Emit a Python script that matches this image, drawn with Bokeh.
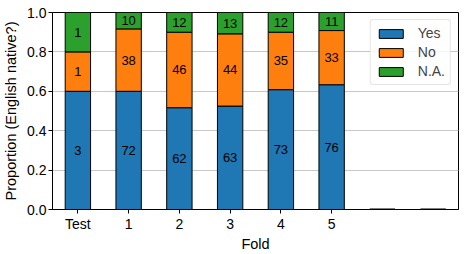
from bokeh.plotting import figure
from bokeh.models import ColumnDataSource, Range1d, FixedTicker, LabelSet
from bokeh.core.properties import value
from bokeh.embed import file_html
from bokeh.resources import INLINE

folds = ["Test", "1", "2", "3", "4", "5", "", ""]
yes_counts = [3, 72, 62, 63, 73, 76, 0, 0]
no_counts = [1, 38, 46, 44, 35, 33, 0, 0]
na_counts = [1, 10, 12, 13, 12, 11, 0, 0]
series_names = ["Yes", "No", "N.A."]
colors = ["#1f77b4", "#ff7f0e", "#2ca02c"]
y_ticks = [0.0, 0.2, 0.4, 0.6, 0.8, 1.0]

FONT = "Liberation Sans"
BAR_W = 0.5

xs = list(range(len(folds)))
totals = [a + b + c for a, b, c in zip(yes_counts, no_counts, na_counts)]
def prop(v, t):
    return v / t if t else 0.0
yes_p = [prop(v, t) for v, t in zip(yes_counts, totals)]
no_p = [prop(v, t) for v, t in zip(no_counts, totals)]
na_p = [prop(v, t) for v, t in zip(na_counts, totals)]

src = ColumnDataSource(dict(x=xs, Yes=yes_p, No=no_p, NA=na_p))

p = figure(width=465, height=254, output_backend="svg", toolbar_location=None,
           x_range=Range1d(-0.5, 7.5), y_range=Range1d(0, 1),
           min_border_left=50, min_border_right=7, min_border_top=12, min_border_bottom=43)

p.vbar_stack(["Yes", "No", "NA"], x="x", width=BAR_W, source=src,
             fill_color=colors, line_color="black", line_width=1,
             legend_label=series_names)

# empty bars (zero height) drawn as flat outlines
ex = [i for i in xs if totals[i] == 0]
esrc = ColumnDataSource(dict(x0=[i - BAR_W / 2 for i in ex], x1=[i + BAR_W / 2 for i in ex],
                             y=[0.0 for _ in ex]))
p.segment(x0="x0", y0="y", x1="x1", y1="y", source=esrc, line_color="black", line_width=2)

# labels
lx, ly, lt = [], [], []
for i in xs:
    base = 0.0
    for cnt, pr in ((yes_counts[i], yes_p[i]), (no_counts[i], no_p[i]), (na_counts[i], na_p[i])):
        if cnt:
            lx.append(i)
            ly.append(base + pr / 2)
            lt.append(str(cnt))
        base += pr
lsrc = ColumnDataSource(dict(x=lx, y=ly, t=lt))
labels = LabelSet(x="x", y="y", text="t", source=lsrc, text_align="center",
                  text_baseline="middle", text_font=value(FONT), text_font_size=value("13px"),
                  text_color="black")
p.add_layout(labels)

p.outline_line_color = "black"
p.outline_line_width = 1
p.outline_line_alpha = 1

p.xgrid.grid_line_color = None
p.ygrid.ticker = FixedTicker(ticks=y_ticks)
p.ygrid.grid_line_color = "#c8c8c8"
p.ygrid.grid_line_width = 1

p.xaxis.ticker = FixedTicker(ticks=xs[:6])
p.xaxis.major_label_overrides = {i: folds[i] for i in xs[:6]}
p.yaxis.ticker = FixedTicker(ticks=y_ticks)
p.yaxis.major_label_overrides = {t: f"{t:.1f}" for t in y_ticks}

for ax in (p.xaxis[0], p.yaxis[0]):
    ax.axis_line_color = "black"
    ax.major_tick_in = 0
    ax.major_tick_out = 4
    ax.major_tick_line_color = "black"
    ax.minor_tick_line_color = None
    ax.major_label_text_font = FONT
    ax.major_label_text_font_size = "14px"
    ax.major_label_text_color = "black"
    ax.axis_label_text_font = FONT
    ax.axis_label_text_font_size = "14.5px"
    ax.axis_label_text_font_style = "normal"
    ax.axis_label_text_color = "black"
    ax.major_label_standoff = 2

p.xaxis.axis_label = "Fold"
p.yaxis.axis_label = "Proportion (English native?)"
p.xaxis.axis_label_standoff = 1
p.yaxis.axis_label_standoff = 5

lg = p.legend[0]
lg.location = "top_right"
lg.margin = 7
lg.padding = 5
lg.spacing = 3
lg.glyph_width = 30
lg.glyph_height = 11
lg.label_height = 14
lg.label_standoff = 12
lg.label_text_font = FONT
lg.label_text_font_size = "14px"
lg.border_line_color = "#cccccc"
lg.border_line_width = 1
lg.border_radius = 3
lg.background_fill_alpha = 0.8

open("out.html", "w").write(file_html(p, INLINE))
